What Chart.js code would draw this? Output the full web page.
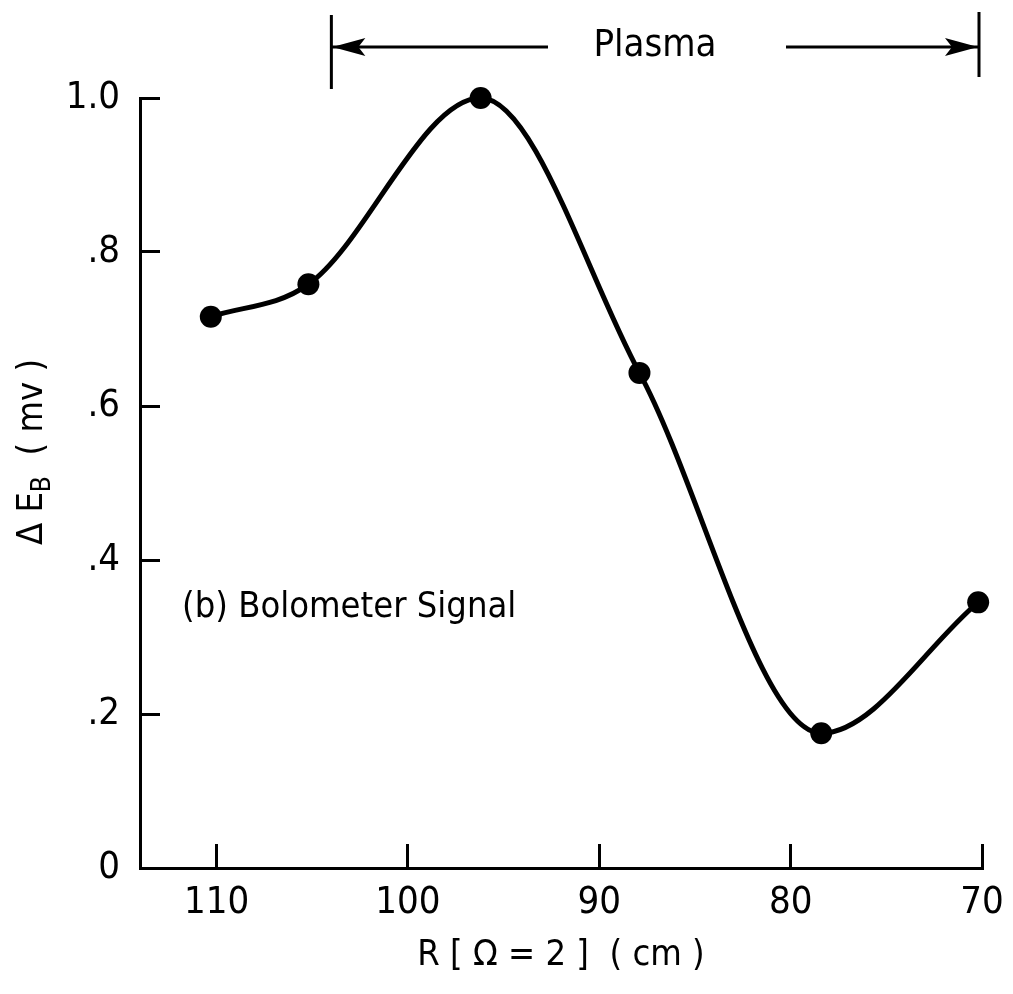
<!DOCTYPE html>
<html>
<head>
<meta charset="utf-8">
<script src="https://cdn.jsdelivr.net/npm/chart.js@4.4.1/dist/chart.umd.min.js"></script>
<style>
  html, body { margin: 0; padding: 0; background: #fff; }
  #wrap { width: 1013px; height: 994px; }
</style>
</head>
<body>
<div id="wrap"><canvas id="chart" width="1013" height="994"></canvas></div>
<script>
// values: R (cm) and bolometer signal (mv)
const radius = [110.3, 105.2, 96.2, 87.9, 78.4, 70.2];
const signal = [0.716, 0.758, 1.0, 0.643, 0.175, 0.345];
const xTicks = [110, 100, 90, 80, 70];
const yTicks = [0, 0.2, 0.4, 0.6, 0.8, 1.0];
const yTickLabels = ['0', '.2', '.4', '.6', '.8', '1.0'];
const plasmaRange = [104, 70];

const FONT = '"Liberation Sans Narrow", "DejaVu Sans Condensed", "Liberation Sans", sans-serif';

// draws the plasma arrow, the panel label and the y title (it has a subscript)
const extras = {
  id: 'extras',
  afterDraw(chart) {
    const ctx = chart.ctx;
    const xs = chart.scales.x;
    const ys = chart.scales.y;
    ctx.save();
    ctx.fillStyle = '#000';
    ctx.strokeStyle = '#000';

    // Plasma range marker
    const xa = xs.getPixelForValue(plasmaRange[0]);
    const xb = xs.getPixelForValue(plasmaRange[1]) - 3;
    const ya = 47;
    ctx.lineWidth = 3;
    ctx.beginPath();
    ctx.moveTo(xa, 15); ctx.lineTo(xa, 89);
    ctx.moveTo(xb, 12); ctx.lineTo(xb, 77);
    ctx.moveTo(xa, ya); ctx.lineTo(548, ya);
    ctx.moveTo(786, ya); ctx.lineTo(xb, ya);
    ctx.stroke();
    ctx.beginPath();
    ctx.moveTo(xa + 1, ya); ctx.lineTo(xa + 34, ya - 9); ctx.lineTo(xa + 27, ya); ctx.lineTo(xa + 34, ya + 9);
    ctx.closePath(); ctx.fill();
    ctx.beginPath();
    ctx.moveTo(xb - 1, ya); ctx.lineTo(xb - 34, ya - 9); ctx.lineTo(xb - 27, ya); ctx.lineTo(xb - 34, ya + 9);
    ctx.closePath(); ctx.fill();

    ctx.font = '38px ' + FONT;
    ctx.textAlign = 'center';
    ctx.textBaseline = 'middle';
    ctx.fillText('Plasma', 655, 46);

    // panel label
    ctx.font = '36px ' + FONT;
    ctx.textAlign = 'left';
    ctx.fillText('(b) Bolometer Signal', xs.getPixelForValue(111.8), ys.getPixelForValue(0.338));

    // y axis title: ΔE_B (mv)
    ctx.translate(33, 452);
    ctx.rotate(-Math.PI / 2);
    const big = '36px ' + FONT;
    const small = '26px ' + FONT;
    const parts = [
      { t: 'Δ E', f: big, dy: 0 },
      { t: 'B', f: small, dy: 10 },
      { t: '  ( mv )', f: big, dy: 0 }
    ];
    let total = 0;
    parts.forEach(p => { ctx.font = p.f; p.w = ctx.measureText(p.t).width; total += p.w; });
    let x = -total / 2;
    parts.forEach(p => { ctx.font = p.f; ctx.fillText(p.t, x, p.dy); x += p.w; });
    ctx.restore();
  }
};

new Chart(document.getElementById('chart'), {
  type: 'line',
  data: {
    datasets: [{
      data: radius.map((r, i) => ({ x: r, y: signal[i] })),
      borderColor: '#000',
      borderWidth: 5,
      backgroundColor: '#000',
      pointRadius: 11,
      pointBorderWidth: 0,
      pointBackgroundColor: '#000',
      cubicInterpolationMode: 'monotone',
      clip: false
    }]
  },
  options: {
    responsive: false,
    animation: false,
    layout: { padding: { left: 0, right: 31, top: 98, bottom: 0 } },
    plugins: {
      legend: { display: false },
      tooltip: { enabled: false }
    },
    scales: {
      x: {
        type: 'linear',
        reverse: true,
        min: 70,
        max: 114,
        afterBuildTicks: s => { s.ticks = xTicks.map(v => ({ value: v })); },
        afterFit: s => { s.height = 126; s.paddingLeft = 0; s.paddingRight = 24; },
        border: { display: true, color: '#000', width: 3 },
        grid: { drawOnChartArea: false, drawTicks: true, tickLength: -24, color: '#000', lineWidth: 3 },
        ticks: {
          color: '#000',
          font: { family: FONT, size: 38 },
          padding: 36,
          maxRotation: 0,
          autoSkip: false,
          callback: v => String(v)
        },
        title: {
          display: true,
          text: 'R [ Ω = 2 ]  ( cm )',
          color: '#000',
          font: { family: FONT, size: 36 },
          padding: { top: 0, bottom: 17 }
        }
      },
      y: {
        type: 'linear',
        min: 0,
        max: 1,
        afterBuildTicks: s => { s.ticks = yTicks.map(v => ({ value: v })); },
        afterFit: s => { s.width = 140; },
        border: { display: true, color: '#000', width: 3 },
        grid: { drawOnChartArea: false, drawTicks: true, tickLength: -20, color: '#000', lineWidth: 3 },
        ticks: {
          color: '#000',
          font: { family: FONT, size: 38 },
          padding: 40,
          callback: v => yTickLabels[yTicks.indexOf(v)]
        }
      }
    }
  },
  plugins: [extras]
});
</script>
</body>
</html>
